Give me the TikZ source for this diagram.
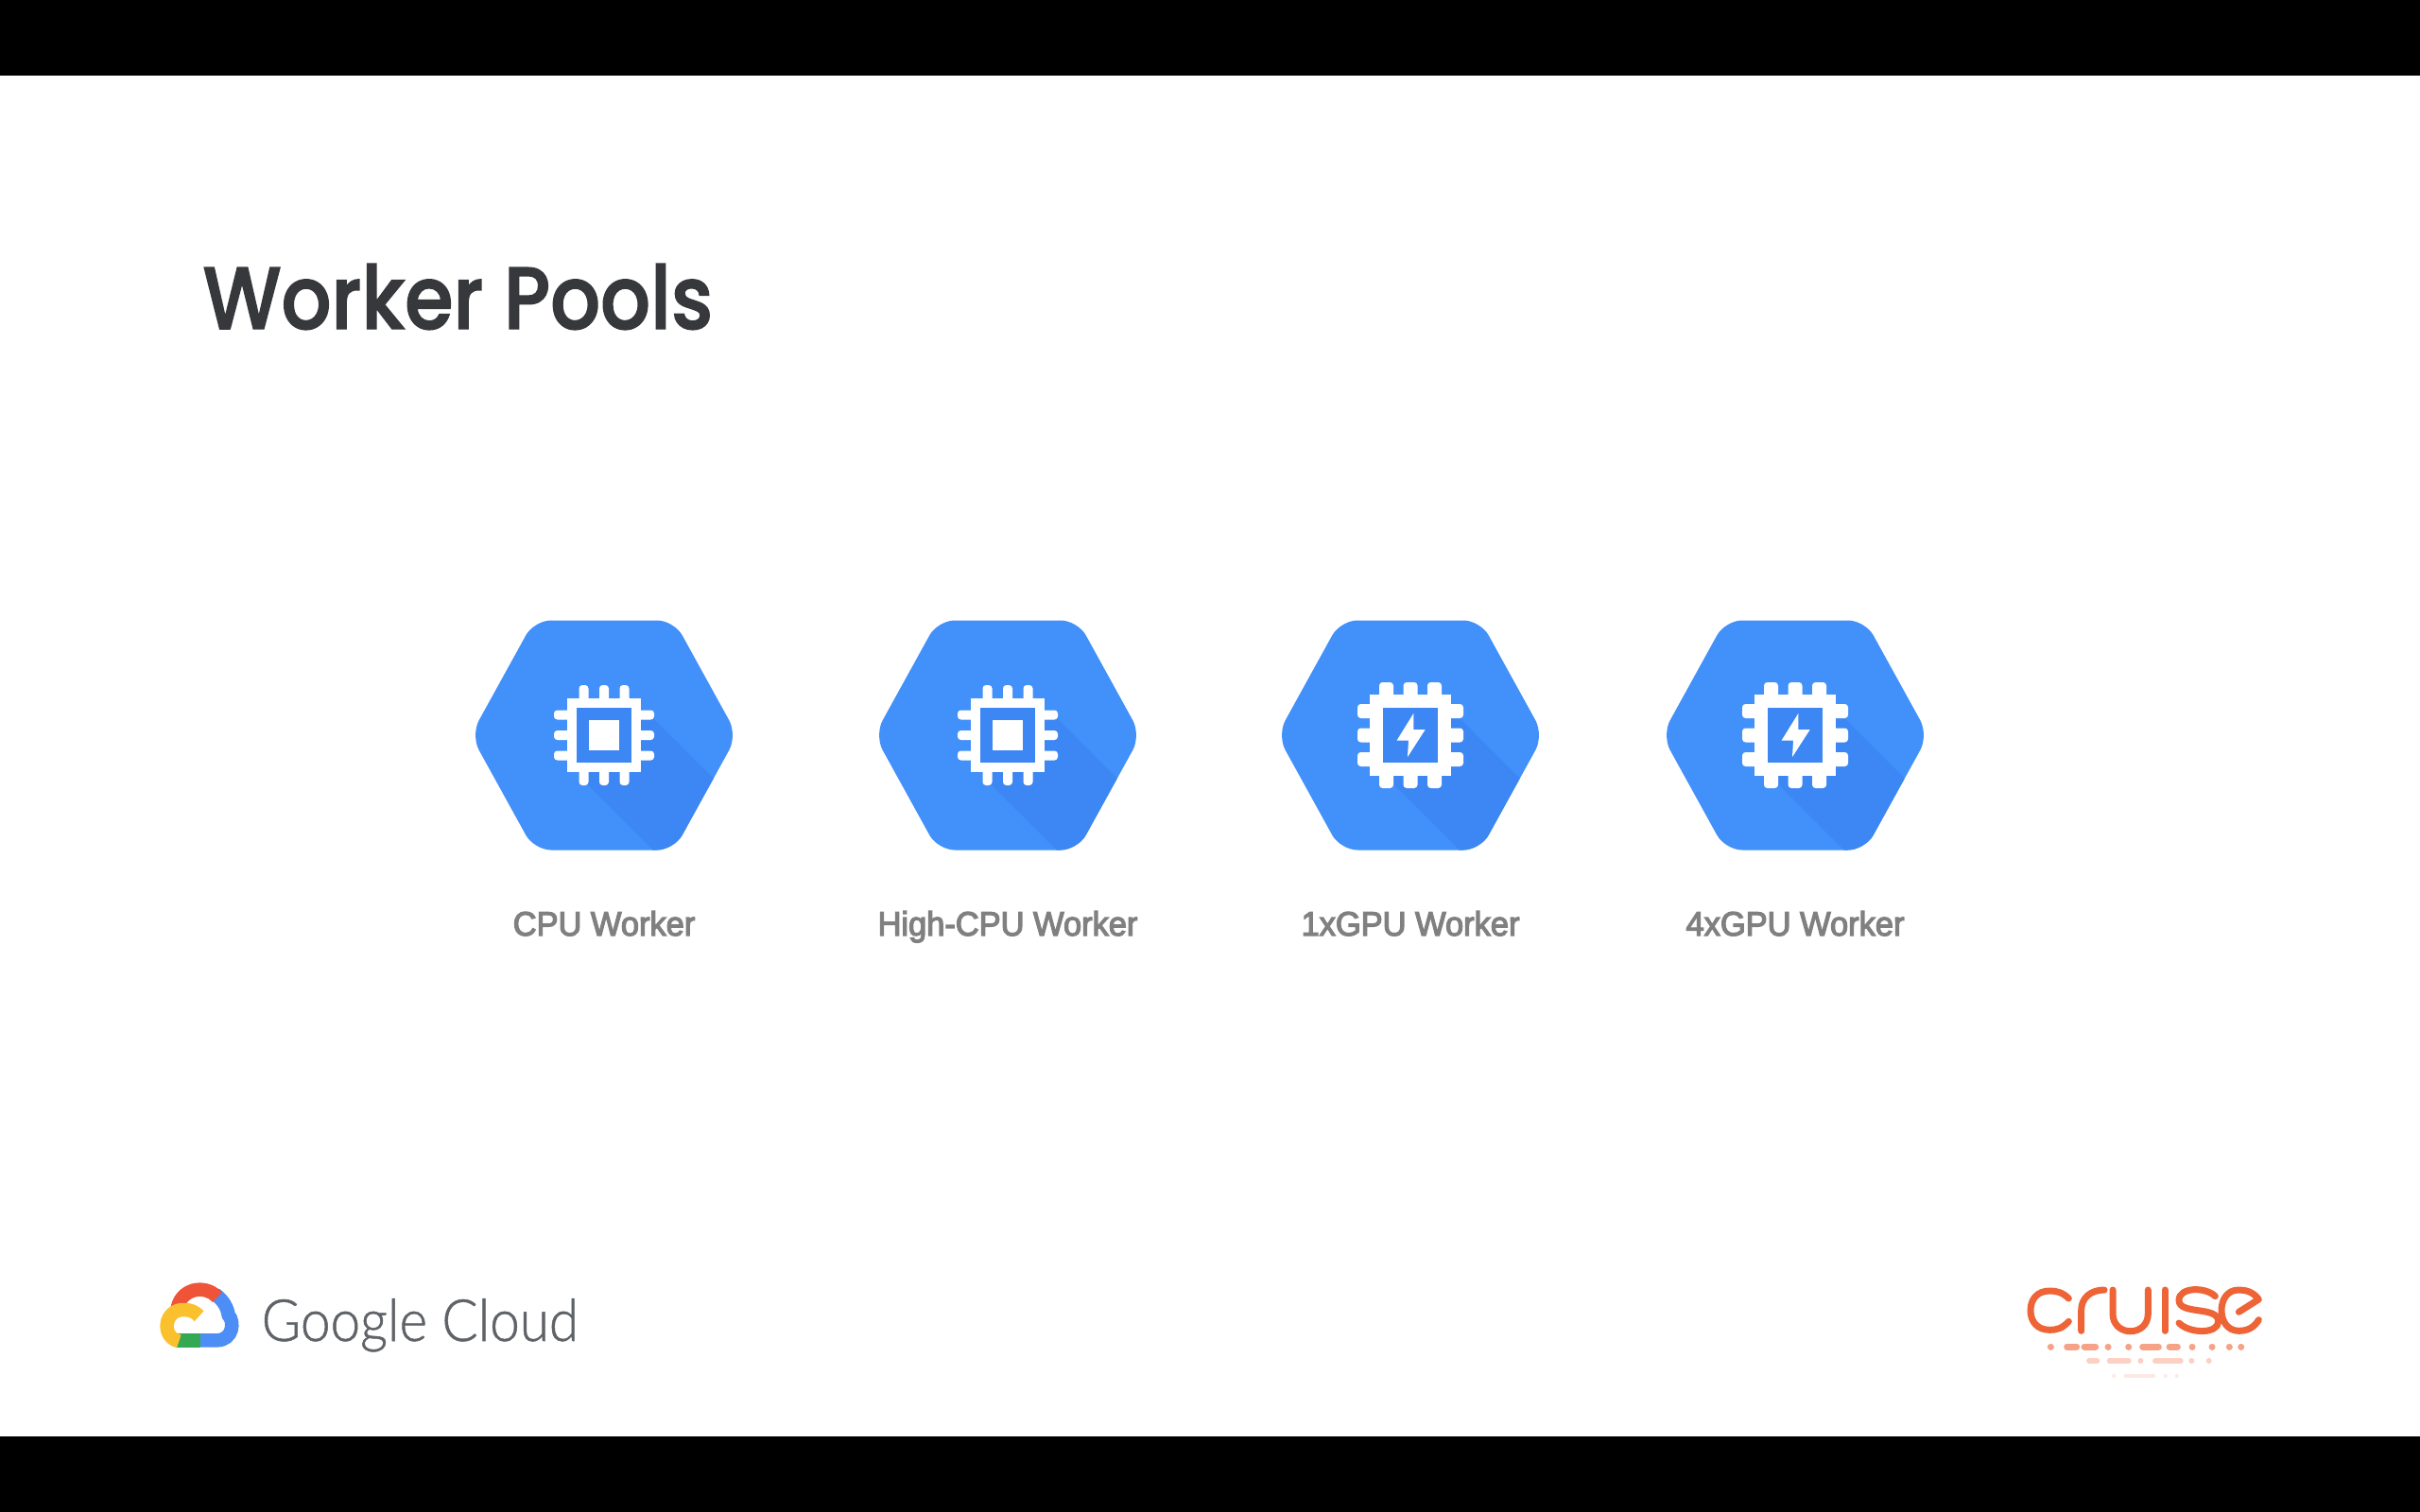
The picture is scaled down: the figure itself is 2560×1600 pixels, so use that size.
\documentclass[tikz,border=0pt]{standalone}
\usepackage{xcolor}
\usepackage{fontspec}
\usetikzlibrary{calc}

\newfontfamily\titlefont{Poppins Medium}[FakeStretch=0.89, FakeBold=1.6]
\newfontfamily\brandfont{Lato Light}[FakeStretch=0.92, FakeBold=0.8]
\newfontfamily\labelfont{Liberation Sans}[FakeStretch=0.96, FakeBold=3.5]

\definecolor{hexblue}{HTML}{4290FA}
\definecolor{hexshade}{HTML}{3C87F4}
\definecolor{titlegray}{HTML}{36383B}
\definecolor{labelgray}{HTML}{808080}
\definecolor{brandgray}{HTML}{5F6368}
\definecolor{cruiseorange}{HTML}{EE6436}
\definecolor{cloudred}{HTML}{EF5338}
\definecolor{cloudblue}{HTML}{4C8DF6}
\definecolor{cloudgreen}{HTML}{34A853}
\definecolor{cloudyellow}{HTML}{FBC02D}

\newcommand{\hexpath}{(-141,0) -- (-74,-121.5) -- (74,-121.5) -- (141,0) -- (74,121.5) -- (-74,121.5) -- cycle}

\tikzset{
    workerlabel/.style={anchor=base, inner sep=0pt, text=labelgray, font=\fontsize{10.2}{12}\selectfont\labelfont},
    cruisestroke/.style={draw=cruiseorange, line width=7*0.2845pt, line cap=round, line join=round},
    cloudstroke/.style={line width=14.5*0.2845pt},
    dotrow/.style={line width=#1*0.2845pt, line cap=round},
    pin/.style={fill=white, rounded corners=1}
}

\begin{document}
\begin{tikzpicture}[x=0.01cm, y=-0.01cm]
        % the frame
        \fill [black] (0,0) rectangle (2560,1600);
        \fill [white] (0,80) rectangle (2560,1520);

        \node [anchor=base west, inner sep=0pt, text=titlegray, font=\fontsize{26.5}{30}\selectfont\titlefont] (title) at (214,348) {Worker Pools};

        % the hexagons
        \foreach \cx in {639,1066,1492,1899} {
            \begin{scope}[shift={(\cx,778)}]
                \fill [hexblue, rounded corners=0.18cm] \hexpath;
                \begin{scope}
                    \clip [rounded corners=0.18cm] \hexpath;
                    \fill [hexshade] (45,-25) -- (205,135) -- (135,205) -- (-25,45) -- cycle;
                \end{scope}
            \end{scope}
        }

        % cpu chips
        \foreach \cx in {639,1066} {
            \begin{scope}[shift={(\cx,778)}]
                \foreach \p in {-21.5,0,21.5} {
                    \fill [pin] (\p-5,-53) rectangle (\p+5,53);
                    \fill [pin] (-53,\p-5) rectangle (53,\p+5);
                }
                \fill [white] (-39,-39) rectangle (39,39);
                \fill [hexshade] (-29,-29) rectangle (29,29);
                \fill [white] (-16,-16) rectangle (16,16);
            \end{scope}
        }

        % gpu chips
        \foreach \cx in {1492,1899} {
            \begin{scope}[shift={(\cx,778)}]
                \foreach \p in {-25.5,0,25.5} {
                    \fill [pin] (\p-7.5,-56) rectangle (\p+7.5,56);
                    \fill [pin] (-56,\p-7.5) rectangle (56,\p+7.5);
                }
                \fill [white] (-43,-43) rectangle (43,43);
                \fill [hexshade] (-29,-29) rectangle (29,29);
                \fill [white] (3.3,-23) -- (-14.5,5.7) -- (-2,5.7) -- (-3,23) -- (15.7,-6) -- (3.3,-6) -- cycle;
            \end{scope}
        }

        \node [workerlabel] (cpu)     at (639,990)  {CPU Worker};
        \node [workerlabel] (highcpu) at (1066,990) {High-CPU Worker};
        \node [workerlabel] (onegpu)  at (1492,990) {1xGPU Worker};
        \node [workerlabel] (fourgpu) at (1899,990) {4xGPU Worker};

        % google cloud logo
        \begin{scope}[shift={(150,1330)}, scale=1/3]
            \draw [cloudstroke, draw=cloudblue] (232,118) .. controls (262,140) and (272,165) .. (275,185) .. controls (295,205) and (290,263) .. (240,265) -- (185,265);
            \draw [cloudstroke, draw=cloudgreen] (185,265) -- (110,265);
            \draw [cloudstroke, draw=cloudred] (112,170) .. controls (120,100) and (200,85) .. (240,128);
            \draw [cloudstroke, draw=cloudyellow] (118,268) .. controls (60,255) and (70,165) .. (135,168) .. controls (155,168) and (170,175) .. (182,188);
        \end{scope}
        \node [anchor=base west, inner sep=0pt, text=brandgray, font=\fontsize{17.5}{20}\selectfont\brandfont] (brand) at (276,1419) {Google Cloud};

        % cruise logo
        \begin{scope}[shift={(2120,1330)}, scale=1/3]
            \draw [cruisestroke] (205,132) .. controls (185,112) and (165,108) .. (145,108) .. controls (105,108) and (84,135) .. (84,170) .. controls (84,205) and (105,232) .. (145,232) .. controls (165,232) and (185,228) .. (205,205);
            \draw [cruisestroke] (245,235) -- (245,170) .. controls (245,130) and (275,105) .. (318,105);
            \draw [cruisestroke] (345,105) -- (345,180) .. controls (345,255) and (457,255) .. (457,180) -- (457,105);
            \draw [cruisestroke] (510,105) -- (510,235);
            \draw [cruisestroke] (670,125) .. controls (640,95) and (555,95) .. (555,138) .. controls (555,185) and (680,155) .. (680,205) .. controls (680,245) and (590,245) .. (555,210);
            \draw [cruisestroke] (745,175) -- (808,135) .. controls (790,110) and (765,105) .. (745,105) .. controls (705,105) and (690,140) .. (690,170) .. controls (690,205) and (710,235) .. (745,235) .. controls (775,235) and (795,222) .. (808,200);

            \foreach \a/\b in {148/148.1,200/230,255/290,330/330.1,395/395.1,440/490,525/550,597/597.1,660/660.1,715/715.1,752/752.1}
                \draw [dotrow=7, draw=cruiseorange!60] (\a,285) -- (\b,285);
            \foreach \a/\b in {270/295,335/395,433/433.1,480/560,595/595.1,650/650.1}
                \draw [dotrow=6, draw=cruiseorange!30] (\a,330) -- (\b,330);
            \foreach \a/\b in {348/348.1,385/475,512/512.1,548/548.1}
                \draw [dotrow=4, draw=cruiseorange!14] (\a,378) -- (\b,378);
        \end{scope}
    \end{tikzpicture}
\end{document}
